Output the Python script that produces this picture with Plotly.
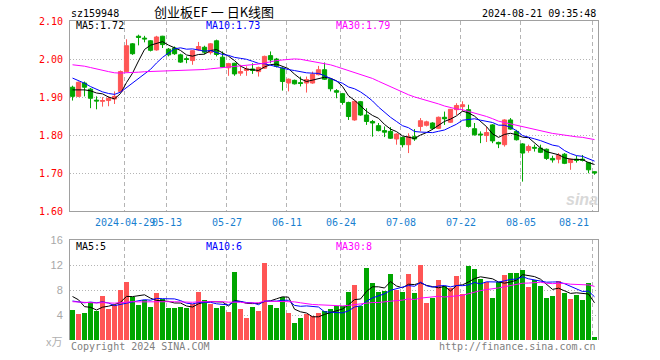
import plotly.graph_objects as go

# ---------------- data ----------------
dates = [
    "2024-04-16", "2024-04-17", "2024-04-18", "2024-04-19", "2024-04-22", "2024-04-23", "2024-04-24",
    "2024-04-25", "2024-04-26", "2024-04-29", "2024-04-30", "2024-05-06", "2024-05-07", "2024-05-08",
    "2024-05-09", "2024-05-10", "2024-05-13", "2024-05-14", "2024-05-15", "2024-05-16", "2024-05-17",
    "2024-05-20", "2024-05-21", "2024-05-22", "2024-05-23", "2024-05-24", "2024-05-27", "2024-05-28",
    "2024-05-29", "2024-05-30", "2024-05-31", "2024-06-03", "2024-06-04", "2024-06-05", "2024-06-06",
    "2024-06-07", "2024-06-11", "2024-06-12", "2024-06-13", "2024-06-14", "2024-06-17", "2024-06-18",
    "2024-06-19", "2024-06-20", "2024-06-21", "2024-06-24", "2024-06-25", "2024-06-26", "2024-06-27",
    "2024-06-28", "2024-07-01", "2024-07-02", "2024-07-03", "2024-07-04", "2024-07-05", "2024-07-08",
    "2024-07-09", "2024-07-10", "2024-07-11", "2024-07-12", "2024-07-15", "2024-07-16", "2024-07-17",
    "2024-07-18", "2024-07-19", "2024-07-22", "2024-07-23", "2024-07-24", "2024-07-25", "2024-07-26",
    "2024-07-29", "2024-07-30", "2024-07-31", "2024-08-01", "2024-08-02", "2024-08-05", "2024-08-06",
    "2024-08-07", "2024-08-08", "2024-08-09", "2024-08-12", "2024-08-13", "2024-08-14", "2024-08-15",
    "2024-08-16", "2024-08-19", "2024-08-20", "2024-08-21",
]

open_ = [1.926, 1.902, 1.937, 1.921, 1.892, 1.889, 1.891, 1.895, 1.915, 1.967,
         2.040, 2.060, 2.055, 2.048, 2.024, 2.060, 2.026, 2.029, 2.011, 2.001,
         1.996, 2.024, 2.031, 2.017, 2.048, 2.005, 1.977, 1.989, 1.963, 1.970,
         1.974, 1.967, 1.976, 2.009, 2.000, 1.976, 1.937, 1.944, 1.938, 1.937,
         1.937, 1.959, 1.972, 1.947, 1.917, 1.909, 1.886, 1.840, 1.888, 1.853,
         1.836, 1.825, 1.812, 1.810, 1.790, 1.794, 1.775, 1.796, 1.823, 1.826,
         1.832, 1.818, 1.847, 1.834, 1.867, 1.875, 1.867, 1.817, 1.803, 1.799,
         1.827, 1.781, 1.775, 1.840, 1.810, 1.777, 1.760, 1.768, 1.766, 1.763,
         1.739, 1.737, 1.750, 1.728, 1.737, 1.737, 1.728, 1.704]
high = [1.930, 1.941, 1.941, 1.924, 1.902, 1.900, 1.902, 1.915, 1.970, 2.052,
        2.042, 2.064, 2.061, 2.050, 2.061, 2.061, 2.029, 2.033, 2.014, 2.007,
        2.024, 2.045, 2.035, 2.042, 2.051, 2.020, 1.990, 1.990, 1.985, 1.981,
        1.989, 1.980, 2.009, 2.020, 2.003, 1.978, 1.949, 1.946, 1.954, 1.954,
        1.967, 1.982, 1.991, 1.949, 1.921, 1.911, 1.888, 1.891, 1.890, 1.871,
        1.840, 1.832, 1.823, 1.821, 1.805, 1.796, 1.805, 1.816, 1.845, 1.838,
        1.834, 1.849, 1.862, 1.869, 1.884, 1.889, 1.880, 1.832, 1.810, 1.823,
        1.829, 1.783, 1.842, 1.845, 1.814, 1.779, 1.775, 1.775, 1.775, 1.765,
        1.746, 1.753, 1.753, 1.739, 1.746, 1.748, 1.730, 1.705]
low = [1.891, 1.900, 1.902, 1.871, 1.868, 1.875, 1.876, 1.882, 1.913, 1.965,
       2.011, 2.036, 2.044, 2.020, 2.022, 2.029, 2.007, 2.011, 1.990, 1.989,
       1.985, 2.022, 2.013, 2.012, 2.007, 1.977, 1.956, 1.956, 1.956, 1.956,
       1.961, 1.954, 1.974, 1.989, 1.978, 1.917, 1.915, 1.933, 1.928, 1.912,
       1.935, 1.957, 1.945, 1.915, 1.897, 1.880, 1.840, 1.838, 1.851, 1.827,
       1.796, 1.810, 1.795, 1.790, 1.775, 1.768, 1.753, 1.785, 1.810, 1.823,
       1.814, 1.816, 1.827, 1.832, 1.853, 1.862, 1.820, 1.799, 1.779, 1.782,
       1.779, 1.766, 1.770, 1.814, 1.786, 1.678, 1.754, 1.757, 1.753, 1.735,
       1.728, 1.726, 1.724, 1.709, 1.728, 1.731, 1.700, 1.696]
close = [1.902, 1.939, 1.926, 1.897, 1.890, 1.891, 1.897, 1.902, 1.967, 2.035,
         2.014, 2.057, 2.053, 2.023, 2.058, 2.038, 2.011, 2.014, 1.992, 1.999,
         2.022, 2.033, 2.018, 2.040, 2.012, 1.979, 1.988, 1.961, 1.967, 1.974,
         1.970, 1.978, 2.007, 1.998, 1.981, 1.941, 1.947, 1.935, 1.936, 1.946,
         1.960, 1.972, 1.947, 1.922, 1.913, 1.886, 1.849, 1.889, 1.853, 1.836,
         1.832, 1.812, 1.808, 1.792, 1.803, 1.775, 1.796, 1.790, 1.838, 1.835,
         1.818, 1.847, 1.843, 1.868, 1.878, 1.880, 1.823, 1.801, 1.801, 1.807,
         1.785, 1.777, 1.840, 1.816, 1.788, 1.753, 1.770, 1.766, 1.755, 1.739,
         1.735, 1.748, 1.726, 1.737, 1.734, 1.734, 1.709, 1.701]
volume = [4.80, 4.16, 4.32, 6.08, 4.64, 7.04, 4.96, 5.60, 8.00, 9.28,
          6.88, 5.60, 6.40, 5.28, 7.52, 6.56, 5.12, 5.12, 5.28, 5.12,
          5.76, 7.68, 6.40, 5.76, 5.12, 5.44, 4.48, 10.88, 4.96, 3.52,
          5.28, 4.64, 12.32, 5.60, 5.12, 6.88, 4.32, 2.72, 3.52, 4.16,
          3.84, 4.32, 4.64, 4.96, 5.44, 5.44, 7.68, 8.80, 5.44, 11.52,
          9.12, 7.68, 7.84, 10.56, 8.00, 7.68, 10.56, 7.52, 12.00, 5.92,
          6.72, 9.60, 8.64, 8.32, 10.24, 7.36, 11.84, 11.36, 9.76, 9.28,
          6.72, 9.28, 10.40, 10.72, 10.72, 11.20, 8.48, 9.60, 8.64, 6.72,
          7.04, 9.44, 7.52, 6.56, 7.20, 6.40, 9.12, 0.48]

# sessions before the visible window (only feed the moving averages)
prior_close = [1.985, 1.992, 2.004, 2.010, 1.998, 1.990, 1.995, 1.994,
               2.000, 2.012, 2.020, 2.015, 2.008, 2.018, 2.025, 2.010, 1.998, 2.002, 1.990, 1.984,
               2.005, 1.995, 1.985, 1.965, 1.955,
               1.939, 1.926, 1.909, 1.919]
prior_volume = [5.8, 6.5, 7.2, 5.9, 5.4, 6.3, 6.8, 5.6, 5.2, 6.0,
                6.9, 5.5, 6.2, 5.7, 6.4, 6.1, 5.3, 6.6, 6.0, 6.1,
                5.2, 6.1, 5.0, 5.8, 5.5,
                6.8, 9.8, 6.6, 6.8]

tick_dates = ["2024-04-29", "2024-05-13", "2024-05-27", "2024-06-11", "2024-06-24",
              "2024-07-08", "2024-07-22", "2024-08-05", "2024-08-21"]
tick_labels = ["2024-04-29", "05-13", "05-27", "06-11", "06-24", "07-08", "07-22", "08-05", "08-21"]
price_ticks = [1.60, 1.70, 1.80, 1.90, 2.00, 2.10]
volume_ticks = [4, 8, 12, 16]

code = "sz159948"
title = "创业板EF 一 日K线图"
timestamp = "2024-08-21 09:35:48"

# ---------------- styling ----------------
RED = "#FF5555"
GREEN = "#00A600"
BORDER = "#A0A0A0"
GRID = "#B4B4B4"
MONO = "DejaVu Sans Mono, Liberation Mono, monospace"

W, H = 660, 360
L, R, T, B = 70, 62, 21, 20
PW, PH = W - L - R, H - T - B


def px(xp, yp):
    return (xp - L) / PW, (H - B - yp) / PH


def moving_avg(prior, vals, w):
    s = prior + vals
    k = len(prior)
    return [sum(s[i - w + 1:i + 1]) / w for i in range(k, len(s))]


xi = list(range(len(dates)))
ma5 = moving_avg(prior_close, close, 5)
ma10 = moving_avg(prior_close, close, 10)
ma30 = moving_avg(prior_close, close, 30)
vma5 = moving_avg(prior_volume, volume, 5)
vma10 = moving_avg(prior_volume, volume, 10)
vma30 = moving_avg(prior_volume, volume, 30)
vol_colors = [RED if c >= o else GREEN for o, c in zip(open_, close)]

fig = go.Figure()
fig.add_trace(go.Candlestick(
    x=xi, open=open_, high=high, low=low, close=close,
    increasing=dict(line=dict(color=RED, width=1), fillcolor=RED),
    decreasing=dict(line=dict(color=GREEN, width=1), fillcolor=GREEN),
    whiskerwidth=0, showlegend=False, hoverinfo="skip", xaxis="x", yaxis="y"))
for series, col in ((ma5, "#000000"), (ma10, "#0000FF"), (ma30, "#FF00FF")):
    fig.add_trace(go.Scatter(x=xi, y=series, mode="lines", line=dict(color=col, width=1),
                             showlegend=False, hoverinfo="skip", xaxis="x", yaxis="y"))
fig.add_trace(go.Bar(x=xi, y=volume, marker=dict(color=vol_colors, line=dict(width=0)),
                     width=0.83, showlegend=False, hoverinfo="skip", xaxis="x2", yaxis="y2"))
for series, col in ((vma5, "#000000"), (vma10, "#0000FF"), (vma30, "#FF00FF")):
    fig.add_trace(go.Scatter(x=xi, y=series, mode="lines", line=dict(color=col, width=1),
                             showlegend=False, hoverinfo="skip", xaxis="x2", yaxis="y2"))

grid_x = [dates.index(d) - 0.3 for d in tick_dates]
xr = [-0.42, len(dates) - 0.42]
main_bottom = (H - B - 211.3) / PH
vol_top = (H - B - 240) / PH

common_x = dict(range=xr, tickvals=grid_x, showticklabels=False, ticks="",
                showgrid=True, gridcolor=GRID, griddash="4px,3px", gridwidth=1,
                zeroline=False, fixedrange=True)
fig.update_layout(
    width=W, height=H, margin=dict(l=L, r=R, t=T, b=B),
    paper_bgcolor="white", plot_bgcolor="white",
    boxgap=0.3, boxgroupgap=0, bargap=0,
    xaxis=dict(**common_x, anchor="y", showline=True, mirror=True, linecolor=BORDER,
               linewidth=1, rangeslider=dict(visible=False)),
    yaxis=dict(domain=[main_bottom, 1], range=[price_ticks[0], price_ticks[-1]],
               tickvals=price_ticks, ticktext=[f"{v:.2f}" for v in price_ticks],
               tickfont=dict(family=MONO, size=10, color="#FF0000"), ticks="",
               ticklabelstandoff=4, fixedrange=True,
               showgrid=True, gridcolor=GRID, griddash="1px,2px", gridwidth=1,
               showline=True, mirror=True, linecolor=BORDER, zeroline=False),
    xaxis2=dict(**common_x, anchor="y2", matches="x", side="top", showline=True,
                linecolor=BORDER, linewidth=1),
    yaxis2=dict(domain=[0, vol_top], range=[0, volume_ticks[-1]],
                tickvals=volume_ticks, ticktext=[str(v) for v in volume_ticks],
                tickfont=dict(family="Liberation Sans, Arial", size=11, color="#A8A8A8"), ticks="",
                ticklabelstandoff=4, fixedrange=True,
                showgrid=True, gridcolor=GRID, griddash="1px,2px", gridwidth=1,
                showline=True, mirror=True, linecolor=BORDER, zeroline=False),
)

ann = []


def text(s, xp, yp, color="#000000", size=10, family=MONO, xanchor="left", **kw):
    x, y = px(xp, yp)
    ann.append(dict(text=s, x=x, y=y, xref="paper", yref="paper", showarrow=False,
                    xanchor=xanchor, yanchor="middle", font=dict(family=family, size=size, color=color), **kw))


text(code, 69, 13)
text(title, 214, 12, size=13, family="Noto Sans CJK SC", xanchor="center")
text(timestamp, 598, 13, xanchor="right")
text(f"MA5:{ma5[-1]:.2f}", 74, 26)
text(f"MA10:{ma10[-1]:.2f}", 204, 26, color="#0000FF")
text(f"MA30:{ma30[-1]:.2f}", 334, 26, color="#FF00FF")
text(f"MA5:{int(vma5[-1])}", 74, 246)
text(f"MA10:{int(vma10[-1])}", 204, 246, color="#0000FF")
text(f"MA30:{int(vma30[-1])}", 334, 246, color="#FF00FF")
text("Copyright 2024 SINA.COM", 69, 346, color="#808080")
text("http://finance.sina.com.cn", 598, 346, color="#808080", xanchor="right")
text("x万", 64, 341, color="#B0B0B0", size=11, family="Noto Sans CJK SC", xanchor="right")
text("<b><i>sina</i></b>", 582, 200, color="#D8D8D8", size=16, family="Liberation Sans", xanchor="center")

for d, lab in zip(tick_dates, tick_labels):
    xg = L + (dates.index(d) - 0.3 - xr[0]) * PW / (xr[1] - xr[0])
    if d == tick_dates[-1]:
        text(lab, 591, 222, color="#1A7FD0", xanchor="right")
    else:
        text(lab, xg, 222, color="#1A7FD0", xanchor="center")

fig.update_layout(annotations=ann)
fig.write_html("out.html", config={"displayModeBar": False, "staticPlot": True},
               post_script="document.body.style.margin='0px';document.body.style.overflow='hidden';")
